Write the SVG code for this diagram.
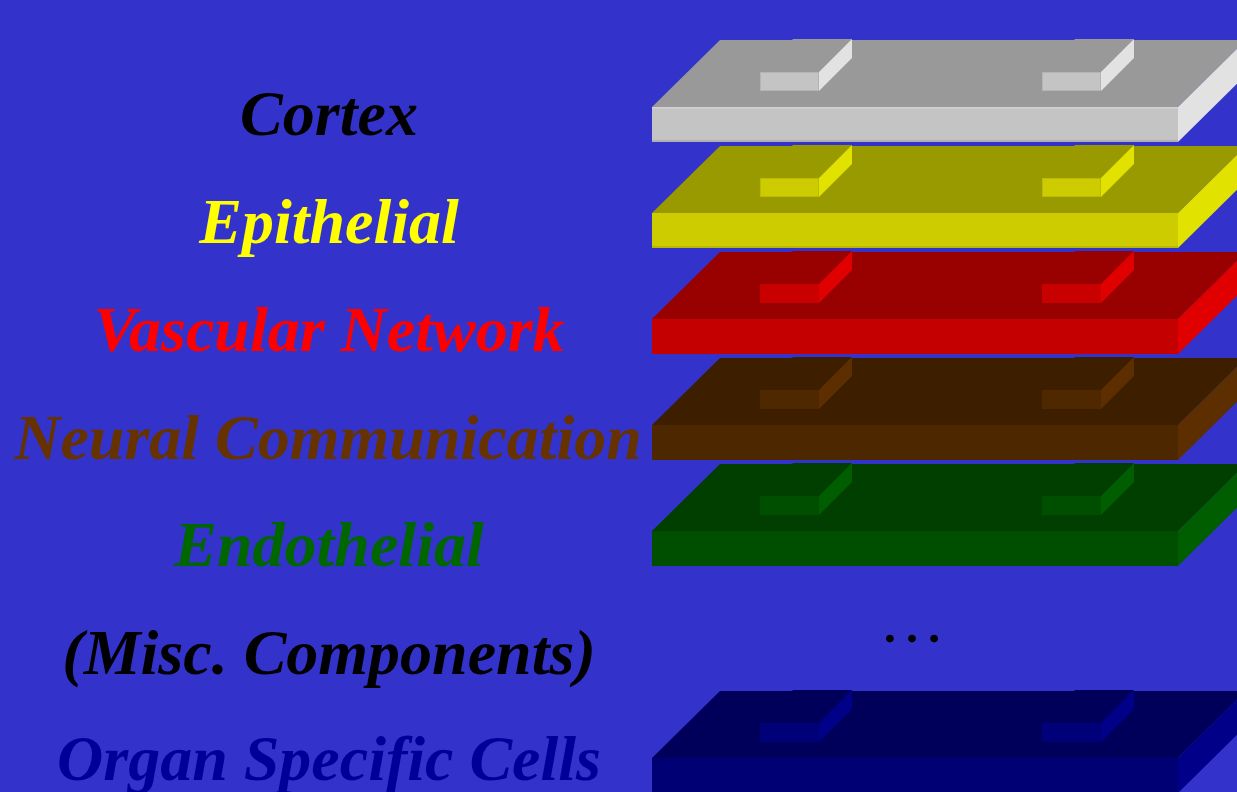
<svg xmlns="http://www.w3.org/2000/svg" width="1237" height="792" viewBox="0 0 1237 792">
  <style>
    .label { font-family: "Liberation Serif", "Times New Roman", serif; font-weight: bold; font-style: italic; font-size: 64px; text-anchor: middle; }
    .dots { font-family: "Liberation Serif", "Times New Roman", serif; font-weight: normal; font-size: 66px; text-anchor: middle; fill: #000000; }
  </style>

  <rect width="1237" height="792" fill="#3333CC"/>

  <!-- Cortex -->
  <g id="cortex">
    <text class="label" x="329" y="135" fill="#000000">Cortex</text>
    <g transform="translate(0,0)">
      <path d="M652,107 L720,40 L1246,40 L1178,107 Z" fill="#999999"/>
      <rect x="652" y="107" width="526" height="35" fill="#C4C4C4"/>
      <rect x="652" y="107" width="526" height="1.5" fill="#D2D2D2"/>
      <rect x="652" y="140" width="526" height="2" fill="#B0B0B0"/>
      <path d="M1178,107 L1246,40 L1246,75 L1178,142 Z" fill="#E2E2E2"/>
      <g fill="#999999"><path d="M760,72 L793,39 L852,39 L819,72 Z"/><path d="M1042,72 L1075,39 L1134,39 L1101,72 Z"/></g>
      <g fill="#C4C4C4" stroke="#B4B4B4" stroke-width="1"><rect x="760.5" y="72.5" width="58" height="18"/><rect x="1042.5" y="72.5" width="58" height="18"/></g>
      <g fill="#E2E2E2"><path d="M819,72 L852,39 L852,58 L819,91 Z"/><path d="M1101,72 L1134,39 L1134,58 L1101,91 Z"/></g>
    </g>
  </g>

  <!-- Epithelial -->
  <g id="epithelial">
    <text class="label" x="329" y="243" fill="#FFFF00">Epithelial</text>
    <g transform="translate(0,106)">
      <path d="M652,107 L720,40 L1246,40 L1178,107 Z" fill="#999900"/>
      <rect x="652" y="107" width="526" height="35" fill="#CCCC00"/>
      <rect x="652" y="140" width="526" height="2" fill="#B8B800"/>
      <path d="M1178,107 L1246,40 L1246,75 L1178,142 Z" fill="#E2E200"/>
      <g fill="#999900"><path d="M760,72 L793,39 L852,39 L819,72 Z"/><path d="M1042,72 L1075,39 L1134,39 L1101,72 Z"/></g>
      <g fill="#CCCC00" stroke="#BBBB00" stroke-width="1"><rect x="760.5" y="72.5" width="58" height="18"/><rect x="1042.5" y="72.5" width="58" height="18"/></g>
      <g fill="#E2E200"><path d="M819,72 L852,39 L852,58 L819,91 Z"/><path d="M1101,72 L1134,39 L1134,58 L1101,91 Z"/></g>
    </g>
  </g>

  <!-- Vascular Network -->
  <g id="vascular-network">
    <text class="label" x="329" y="351" fill="#FF0000">Vascular Network</text>
    <g transform="translate(0,212)">
      <path d="M652,107 L720,40 L1246,40 L1178,107 Z" fill="#990000"/>
      <rect x="652" y="107" width="526" height="35" fill="#C40000"/>
      <path d="M1178,107 L1246,40 L1246,75 L1178,142 Z" fill="#E00000"/>
      <g fill="#990000"><path d="M760,72 L793,39 L852,39 L819,72 Z"/><path d="M1042,72 L1075,39 L1134,39 L1101,72 Z"/></g>
      <g fill="#C80000"><rect x="760" y="72" width="59" height="19"/><rect x="1042" y="72" width="59" height="19"/></g>
      <g fill="#E00000"><path d="M819,72 L852,39 L852,58 L819,91 Z"/><path d="M1101,72 L1134,39 L1134,58 L1101,91 Z"/></g>
    </g>
  </g>

  <!-- Neural Communication -->
  <g id="neural-communication">
    <text class="label" x="328" y="459" fill="#663300">Neural Communication</text>
    <g transform="translate(0,318)">
      <path d="M652,107 L720,40 L1246,40 L1178,107 Z" fill="#3D1F00"/>
      <rect x="652" y="107" width="526" height="35" fill="#4D2700"/>
      <path d="M1178,107 L1246,40 L1246,75 L1178,142 Z" fill="#5C2E00"/>
      <g fill="#3D1F00"><path d="M760,72 L793,39 L852,39 L819,72 Z"/><path d="M1042,72 L1075,39 L1134,39 L1101,72 Z"/></g>
      <g fill="#4F2800"><rect x="760" y="72" width="59" height="19"/><rect x="1042" y="72" width="59" height="19"/></g>
      <g fill="#5C2E00"><path d="M819,72 L852,39 L852,58 L819,91 Z"/><path d="M1101,72 L1134,39 L1134,58 L1101,91 Z"/></g>
    </g>
  </g>

  <!-- Endothelial -->
  <g id="endothelial">
    <text class="label" x="329" y="566" fill="#006600">Endothelial</text>
    <g transform="translate(0,424)">
      <path d="M652,107 L720,40 L1246,40 L1178,107 Z" fill="#003F00"/>
      <rect x="652" y="107" width="526" height="35" fill="#004F00"/>
      <path d="M1178,107 L1246,40 L1246,75 L1178,142 Z" fill="#005E00"/>
      <g fill="#003F00"><path d="M760,72 L793,39 L852,39 L819,72 Z"/><path d="M1042,72 L1075,39 L1134,39 L1101,72 Z"/></g>
      <g fill="#004F00"><rect x="760" y="72" width="59" height="19"/><rect x="1042" y="72" width="59" height="19"/></g>
      <g fill="#005E00"><path d="M819,72 L852,39 L852,58 L819,91 Z"/><path d="M1101,72 L1134,39 L1134,58 L1101,91 Z"/></g>
    </g>
  </g>

  <!-- Misc. Components (no slab, ellipsis instead) -->
  <g id="misc-components">
    <text class="label" x="329" y="674" fill="#000000">(Misc. Components)</text>
    <text class="dots" x="912" y="642">…</text>
  </g>

  <!-- Organ Specific Cells -->
  <g id="organ-specific-cells">
    <text class="label" x="329" y="780" fill="#000099">Organ Specific Cells</text>
    <g transform="translate(0,651)">
      <path d="M652,107 L720,40 L1246,40 L1178,107 Z" fill="#00005A"/>
      <rect x="652" y="107" width="526" height="35" fill="#000075"/>
      <path d="M1178,107 L1246,40 L1246,75 L1178,142 Z" fill="#000088"/>
      <g fill="#00005A"><path d="M760,72 L793,39 L852,39 L819,72 Z"/><path d="M1042,72 L1075,39 L1134,39 L1101,72 Z"/></g>
      <g fill="#000078"><rect x="760" y="72" width="59" height="19"/><rect x="1042" y="72" width="59" height="19"/></g>
      <g fill="#000088"><path d="M819,72 L852,39 L852,58 L819,91 Z"/><path d="M1101,72 L1134,39 L1134,58 L1101,91 Z"/></g>
    </g>
  </g>

  <!-- no connectors in this figure -->
  <g id="connectors"/>
</svg>
